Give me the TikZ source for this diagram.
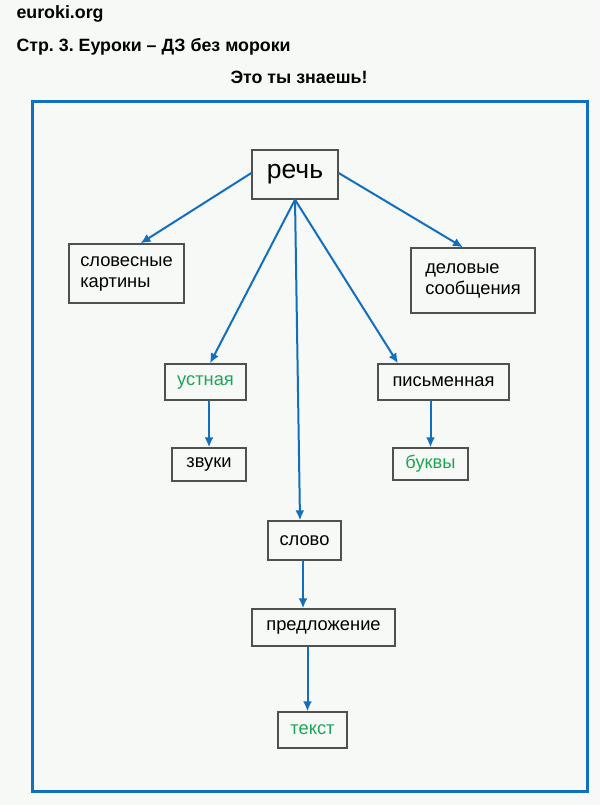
\documentclass[tikz,border=0pt]{standalone}
\usepackage{fontspec}
\setmainfont{Liberation Sans}
\usetikzlibrary{arrows.meta,calc}
\frenchspacing
\definecolor{pagebg}{RGB}{247,249,247}
\definecolor{frameblue}{RGB}{16,112,192}
\definecolor{linkblue}{RGB}{20,110,190}
\definecolor{boxgray}{RGB}{80,80,80}
\definecolor{wordgreen}{RGB}{30,165,85}
\tikzset{%
  >={Latex[width=9pt,length=10pt]},
  % Specifications for style of boxes and arrows:
            base/.style = {rectangle, draw=boxgray, line width=1.3pt,
                           inner sep=0pt, align=left, text=black,
                           font=\fontsize{18.3}{21}\selectfont},
           gbox/.style = {base, text=wordgreen},
           link/.style = {->, draw=linkblue, line width=2pt},
           head/.style = {font=\bfseries\fontsize{17.8}{20}\selectfont}
}
\begin{document}
\begin{tikzpicture}[x=1pt, y=-1pt]
  \useasboundingbox (0,0) rectangle (600,805);
  \fill[pagebg] (0,0) rectangle (600,805);

  % Headings above the frame
  \node (site)   [head, anchor=west] at (13,14)  {euroki.org};
  \node (page)   [head, anchor=west] at (13,47)  {Стр. 3. Еуроки – ДЗ без мороки};
  \node (title)  [head] at (299,77) {Это ты знаешь!};

  % Blue frame
  \draw[frameblue, line width=3pt] (32,102) rectangle (587,791);

  % Specification of nodes (position, size)
  \node (rech)      [base, minimum width=86pt, minimum height=49pt,
                     font=\fontsize{26.5}{30}\selectfont] at (295,174.5) {речь};
  \node (slovesnye) [base, minimum width=115pt, minimum height=59pt] at (126.5,273.5) {словесные\\картины};
  \node (delovye)   [base, minimum width=124pt, minimum height=65pt] at (473,280.5) {деловые\\сообщения};
  \node (ustnaya)   [gbox, minimum width=81pt, minimum height=36pt] at (205.5,382) {устная};
  \node (pismennaya)[base, minimum width=131pt, minimum height=36pt] at (443.5,382) {письменная};
  \node (zvuki)     [base, minimum width=74pt, minimum height=33pt] at (209,464.5) {звуки};
  \node (bukvy)     [gbox, minimum width=75pt, minimum height=32pt] at (430.5,464) {буквы};
  \node (slovo)     [base, minimum width=73pt, minimum height=39pt] at (304.5,540.5) {слово};
  \node (predl)     [base, minimum width=143pt, minimum height=37pt] at (323.5,627.5) {предложение};
  \node (tekst)     [gbox, minimum width=69pt, minimum height=36pt] at (312.5,730) {текст};

  % Arrows between the boxes
  \draw[link] ($(rech.west)+(0,-1.5)$) -- ($(slovesnye.north)+(14,0)$);
  \draw[link] ($(rech.east)+(0,-1.5)$) -- ($(delovye.north)+(-10,0)$);
  \draw[link] (rech.south) -- ($(ustnaya.north)+(4.5,0)$);
  \draw[link] (rech.south) -- ($(slovo.north)+(-4.5,0)$);
  \draw[link] (rech.south) -- ($(pismennaya.north)+(-45.5,0)$);
  \draw[link] (ustnaya.south -| zvuki.north) -- (zvuki.north);
  \draw[link] (pismennaya.south -| bukvy.north) -- (bukvy.north);
  \draw[link] ($(slovo.south)+(-1.5,0)$) -- ($(slovo.south |- predl.north)+(-1.5,0)$);
  \draw[link] ($(tekst.north |- predl.south)+(-5,0)$) -- ($(tekst.north)+(-5,0)$);
\end{tikzpicture}
\end{document}
